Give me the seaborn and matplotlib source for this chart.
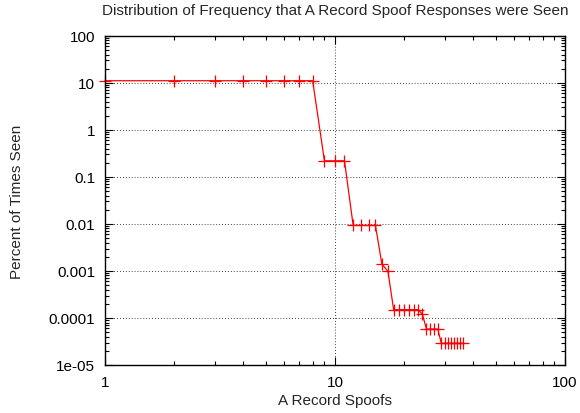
import numpy as np
import pandas as pd
import matplotlib
matplotlib.use("Agg")
import matplotlib.pyplot as plt
import seaborn as sns
from matplotlib.ticker import FixedLocator, LogLocator, NullFormatter

# values (percent of times seen per spoof count)
spoofs = [1, 2, 3, 4, 5, 6, 7, 8,
          9, 10, 11,
          12, 13, 14, 15,
          16, 17,
          18, 19, 20, 21, 22, 23,
          24,
          25, 26, 27, 28,
          29, 30, 31, 32, 33, 34, 35, 36]
percent = [11.1] * 8 + [0.22] * 3 + [0.0093] * 4 + [0.0014, 0.00098] + \
          [0.00015] * 6 + [0.00012] + [5.8e-5] * 4 + [2.9e-5] * 8

y_ticks = [1e-5, 1e-4, 1e-3, 1e-2, 1e-1, 1, 10, 100]
y_labels = ["1e-05", "0.0001", "0.001", "0.01", "0.1", "1", "10", "100"]
x_ticks = [1, 10, 100]
x_labels = ["1", "10", "100"]

sns.set_style("ticks")
plt.rcParams["font.family"] = ["Liberation Sans", "DejaVu Sans"]

df = pd.DataFrame({"spoofs": spoofs, "percent": percent})

fig = plt.figure(figsize=(5.8, 4.14), dpi=100)
ax = fig.add_axes([0.181, 0.116, 0.793, 0.795])

sns.lineplot(data=df, x="spoofs", y="percent", ax=ax, color="#ff0000",
             marker="+", markersize=8, markeredgewidth=0.9,
             markeredgecolor="#ff0000", linewidth=0.9, clip_on=False)

ax.set_xscale("log")
ax.set_yscale("log")
ax.set_xlim(1, 100)
ax.set_ylim(1e-5, 100)

ax.xaxis.set_major_locator(FixedLocator(x_ticks))
ax.set_xticklabels(x_labels)
ax.yaxis.set_major_locator(FixedLocator(y_ticks))
ax.set_yticklabels(y_labels)
ax.xaxis.set_minor_locator(LogLocator(base=10, subs=np.arange(2, 10)))
ax.yaxis.set_minor_locator(LogLocator(base=10, subs=np.arange(2, 10)))
ax.xaxis.set_minor_formatter(NullFormatter())
ax.yaxis.set_minor_formatter(NullFormatter())

ax.tick_params(which="both", direction="in", top=True, right=True,
               labelsize=11, colors="black", width=0.8)
ax.tick_params(which="major", length=6, pad=7)
ax.tick_params(which="minor", length=3)

ax.grid(True, which="major", linestyle=(0, (1, 2.5)), color="black",
        linewidth=0.6)
for s in ax.spines.values():
    s.set_linewidth(1.0)
    s.set_color("black")

ax.set_xlabel("A Record Spoofs", fontsize=11)
ax.set_ylabel("Percent of Times Seen", fontsize=11)
ax.xaxis.set_label_coords(0.5, -0.085)
ax.yaxis.set_label_coords(-0.176, 0.5)
ax.set_title("Distribution of Frequency that A Record Spoof Responses were Seen",
             fontsize=11, pad=16)

fig.savefig("out.png", dpi=100)
